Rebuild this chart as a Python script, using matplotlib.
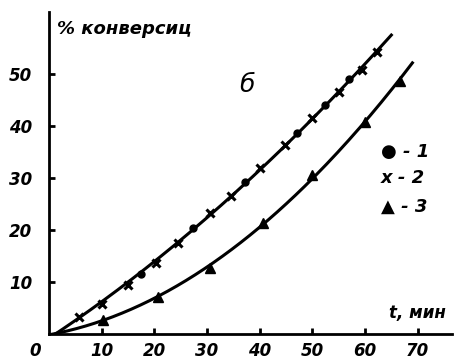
import numpy as np
import matplotlib.pyplot as plt

# кривая 1-2 (точки и крестики лежат на одной линии)
t_dots = np.array([17.5, 27.3, 37.2, 47.0, 52.4, 57.0])
y_dots = np.array([11.5, 20.4, 29.2, 38.8, 44.0, 49.0])
t_cross = np.array([5.7, 10.0, 15.0, 20.3, 24.5, 30.5, 34.5, 40.0, 44.8, 50.0, 55.0, 59.4, 62.2])
y_cross = np.array([3.3, 5.8, 9.4, 13.6, 17.5, 23.3, 26.5, 31.9, 36.3, 41.5, 46.5, 50.8, 54.2])
# кривая 3 (треугольники)
t_tri = np.array([10.2, 20.7, 30.5, 40.6, 50.0, 60.0, 66.6])
y_tri = np.array([2.7, 7.1, 12.7, 21.3, 30.6, 40.8, 48.8])

xticks = [10, 20, 30, 40, 50, 60, 70]
yticks = [10, 20, 30, 40, 50]

fig = plt.figure(figsize=(4.63, 3.62), dpi=100)
ax = fig.add_axes([0.106, 0.077, 0.870, 0.890])

# аппроксимирующие кривые через начало координат
t12 = np.concatenate([[0], t_dots, t_cross])
y12 = np.concatenate([[0], y_dots, y_cross])
f12 = np.poly1d(np.polyfit(t12, y12, 2))
t3 = np.concatenate([[0], t_tri])
y3 = np.concatenate([[0], y_tri])
f3 = np.poly1d(np.polyfit(t3, y3, 2))

tt = np.linspace(0, 65, 200)
ax.plot(tt, f12(tt), color='black', lw=2.2)
tt = np.linspace(0, 69, 200)
ax.plot(tt, f3(tt), color='black', lw=2.2)

ax.plot(t_dots, y_dots, 'o', color='black', ms=5)
ax.plot(t_cross, y_cross, 'x', color='black', ms=6, mew=2.2)
ax.plot(t_tri, y_tri, '^', color='black', ms=7)

ax.set_xlim(0, 76.5)
ax.set_ylim(0, 62)
for s in ['top', 'right']:
    ax.spines[s].set_visible(False)
for s in ['left', 'bottom']:
    ax.spines[s].set_linewidth(2)

fnt = dict(fontsize=12, fontstyle='italic', fontweight='bold')
ax.set_xticks(xticks)
ax.set_xticklabels([str(v) for v in xticks], **fnt)
ax.set_yticks(yticks)
ax.set_yticklabels([str(v) for v in yticks], **fnt)
ax.tick_params(direction='in', length=4, width=2)
ax.tick_params(axis='x', pad=6)
ax.tick_params(axis='y', pad=12)
ax.text(-1.5, -1.5, '0', ha='right', va='top', **fnt)

ax.text(1.5, 60.5, '% конверсиц', ha='left', va='top', fontsize=13,
        fontstyle='italic', fontweight='bold')
ax.text(37.5, 48, 'б', ha='center', va='center', fontsize=18, fontstyle='italic')
lg = dict(fontsize=13, fontstyle='italic', fontweight='bold')
ax.text(63, 35, '● - 1', ha='left', va='center', **lg)
ax.text(63, 30, 'x - 2', ha='left', va='center', **lg)
ax.text(63, 24.5, '▲ - 3', ha='left', va='center', **lg)
ax.text(64.5, 4, 't, мин', ha='left', va='center', **fnt)

plt.savefig('out.png', dpi=100)
